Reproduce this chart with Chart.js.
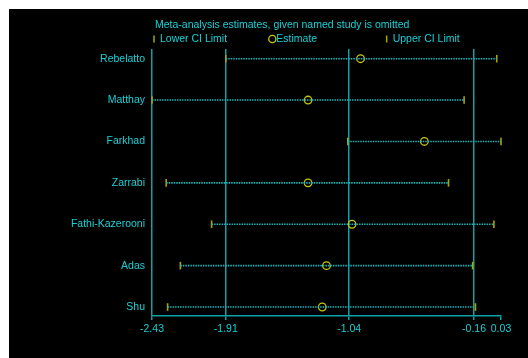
<!DOCTYPE html>
<html>
<head>
<meta charset="utf-8">
<script src="https://cdn.jsdelivr.net/npm/chart.js@4/dist/chart.umd.min.js"></script>
<style>
  html, body { margin: 0; padding: 0; background: #ffffff; }
  #frame { position: absolute; left: 9px; top: 9px; width: 519px; height: 349px; background: #000000; }
  canvas { display: block; }
</style>
</head>
<body>
<div id="frame"><canvas id="c" width="519" height="349"></canvas></div>
<script>
// Influence analysis: pooled estimate with each study left out in turn
const studies  = ["Rebelatto", "Matthay", "Farkhad", "Zarrabi", "Fathi-Kazerooni", "Adas", "Shu"];
const lowerCI  = [-1.91, -2.43, -1.05, -2.33, -2.01, -2.23, -2.32];
const estimate = [-0.96, -1.33, -0.51, -1.33, -1.02, -1.20, -1.23];
const upperCI  = [ 0.00, -0.23,  0.03, -0.34, -0.02, -0.17, -0.15];
const xTicks   = [-2.43, -1.91, -1.04, -0.16, 0.03];

const titleText = "Meta-analysis estimates, given named study is omitted";
const legendLabels = ["Lower CI Limit", "Estimate", "Upper CI Limit"];

const CYAN = "#18d0d6";
const TEAL = "#0ea2a6";
const DOTS = "#1ab4b8";
const YEL  = "#c8c800";
const OLIVE = "#aaa600";
const FONT = "'Liberation Sans', Arial, Helvetica, sans-serif";
const FSIZE = 10.5;

// dotted CI segments, one per study, separated by gaps
const segs = [];
studies.forEach((s, i) => {
  segs.push({ x: lowerCI[i], y: i }, { x: upperCI[i], y: i }, { x: null, y: null });
});

const headerPlugin = {
  id: "header",
  afterDraw(chart) {
    const { ctx, chartArea } = chart;
    ctx.save();
    ctx.font = FSIZE + "px " + FONT;
    ctx.fillStyle = CYAN;
    ctx.textBaseline = "middle";
    ctx.textAlign = "left";
    ctx.fillText(titleText, chartArea.left + 3, 16);
    const colW = (chartArea.right - chartArea.left) / 3;
    const y = 30;
    legendLabels.forEach((lab, k) => {
      const x0 = chartArea.left + 1 + k * colW;
      if (k === 1) {
        ctx.strokeStyle = YEL;
        ctx.lineWidth = 1.3;
        ctx.beginPath();
        ctx.arc(x0 + 3, y, 3.6, 0, Math.PI * 2);
        ctx.stroke();
      } else {
        ctx.strokeStyle = OLIVE;
        ctx.lineWidth = 1.5;
        ctx.beginPath();
        ctx.moveTo(x0 + 1, y - 3.5);
        ctx.lineTo(x0 + 1, y + 3.5);
        ctx.stroke();
      }
      ctx.fillStyle = CYAN;
      ctx.fillText(lab, x0 + 7, y);
    });
    ctx.restore();
  }
};

new Chart(document.getElementById("c"), {
  type: "scatter",
  data: {
    datasets: [
      {
        label: "CI",
        data: segs,
        showLine: true,
        spanGaps: false,
        borderColor: DOTS,
        borderWidth: 1.6,
        borderDash: [1.5, 1],
        pointRadius: 0,
        clip: false
      },
      {
        label: legendLabels[0],
        data: lowerCI.map((v, i) => ({ x: v, y: i })),
        pointStyle: "line",
        rotation: 90,
        radius: 3.8,
        borderColor: OLIVE,
        borderWidth: 1.6,
        clip: false
      },
      {
        label: legendLabels[2],
        data: upperCI.map((v, i) => ({ x: v, y: i })),
        pointStyle: "line",
        rotation: 90,
        radius: 3.8,
        borderColor: OLIVE,
        borderWidth: 1.6,
        clip: false
      },
      {
        label: legendLabels[1],
        data: estimate.map((v, i) => ({ x: v, y: i })),
        pointStyle: "circle",
        radius: 3.8,
        borderColor: YEL,
        backgroundColor: "rgba(0,0,0,0)",
        borderWidth: 1.3,
        clip: false
      }
    ]
  },
  options: {
    responsive: false,
    animation: false,
    events: [],
    layout: { padding: { top: 40, right: 27, bottom: 0, left: 0 } },
    plugins: {
      legend: { display: false },
      title: { display: false },
      tooltip: { enabled: false }
    },
    scales: {
      x: {
        type: "linear",
        min: -2.43,
        max: 0.03,
        afterBuildTicks(scale) { scale.ticks = xTicks.map(v => ({ value: v })); },
        afterFit(scale) { scale.height = 42; },
        ticks: {
          color: CYAN,
          font: { family: FONT, size: FSIZE },
          padding: 3,
          maxRotation: 0,
          autoSkip: false,
          callback: v => v.toFixed(2)
        },
        grid: {
          color: ctx => (ctx.tick && ctx.tick.value === 0.03) ? "rgba(0,0,0,0)" : TEAL,
          tickColor: TEAL,
          tickLength: 4,
          lineWidth: 1.5
        },
        border: { display: true, color: TEAL, width: 1.5 }
      },
      y: {
        type: "linear",
        reverse: true,
        min: -0.234,
        max: 6.217,
        afterBuildTicks(scale) { scale.ticks = studies.map((s, i) => ({ value: i })); },
        afterFit(scale) { scale.width = 143; },
        ticks: {
          color: CYAN,
          font: { family: FONT, size: FSIZE },
          padding: 7,
          autoSkip: false,
          callback: v => studies[v]
        },
        grid: { display: false, drawTicks: false },
        border: { display: false }
      }
    }
  },
  plugins: [headerPlugin]
});
</script>
</body>
</html>
